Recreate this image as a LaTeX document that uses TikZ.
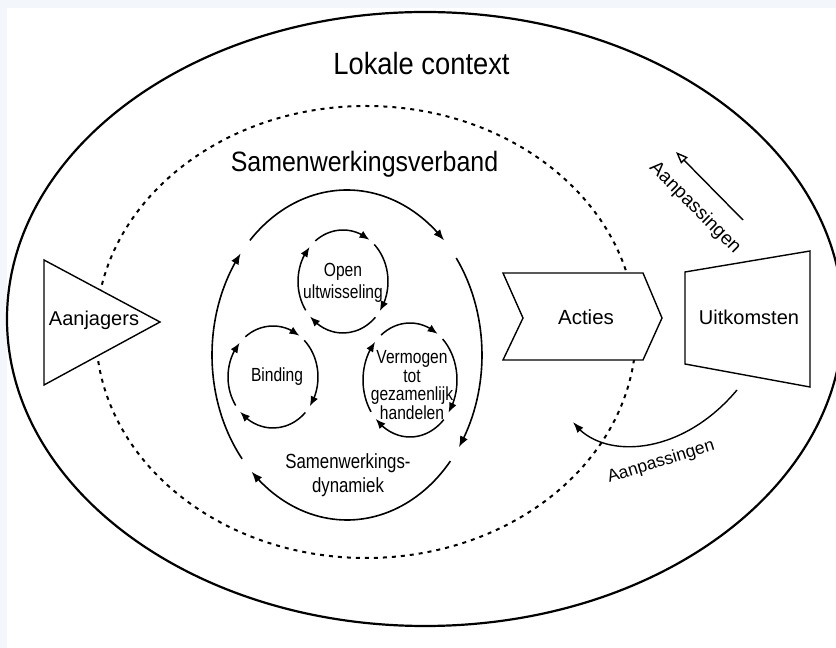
\documentclass[tikz,border=0pt]{standalone}
\usepackage{fontspec}
\setmainfont{Liberation Sans}
\newfontfamily\narrowfont[FakeStretch=0.82]{Liberation Sans}
\newfontfamily\headfont[FakeStretch=0.89]{Liberation Sans}
\usetikzlibrary{arrows.meta,bending}
\definecolor{bandblue}{RGB}{243,246,251}
\tikzset{
  box/.style={draw,fill=white,line width=1.4pt},
  cyc/.style={line width=1.5pt,-{Latex[length=10pt,width=8pt]}},
  bigcyc/.style={line width=1.6pt,-{Latex[length=11pt,width=8.5pt]}},
}

\begin{document}
\begin{tikzpicture}
\begin{scope}[x=1pt,y=1pt]
\useasboundingbox (0,0) rectangle (836,648);
\fill[bandblue] (0,0) rectangle (836,648);
\fill[white] (7,0) rectangle (836,640);

% context and partnership
\path[draw,line width=2.2pt] (425,329) ellipse [x radius=418,y radius=307];
\path[draw,line width=2pt,dash pattern=on 4pt off 5pt]%
(366,316) ellipse [x radius=270,y radius=226];

% shapes on the main line
\path[box]%
(44,388)--(160,326)--(44,263)--cycle;
\path[box]%
(503,375)--(643,375)--(662,330)--(643,288)--(503,288)--(523,330)--cycle;
\path[box]%
(685,376)--(810,397)--(810,261)--(685,284)--cycle;

% outer dynamics loop
\draw[bigcyc] (347,293) ++(136:135 and 165) arc[start angle=136,end angle=44,x radius=135,y radius=165];
\draw[bigcyc] (347,293) ++(36:135 and 165) arc[start angle=36,end angle=-34,x radius=135,y radius=165];
\draw[bigcyc] (347,293) ++(-40:135 and 165) arc[start angle=-40,end angle=-135,x radius=135,y radius=165];
\draw[bigcyc] (347,293) ++(-141:135 and 165) arc[start angle=-141,end angle=-218,x radius=135,y radius=165];

% open exchange
\draw[cyc] (343,366.5) ++(128:45 and 51.5) arc[start angle=128,end angle=54,x radius=45,y radius=51.5];
\draw[cyc] (343,366.5) ++(46:45 and 51.5) arc[start angle=46,end angle=-35,x radius=45,y radius=51.5];
\draw[cyc] (343,366.5) ++(-44:45 and 51.5) arc[start angle=-44,end angle=-137,x radius=45,y radius=51.5];
\draw[cyc] (343,366.5) ++(-146:45 and 51.5) arc[start angle=-146,end angle=-222,x radius=45,y radius=51.5];

% binding
\draw[cyc] (273,271) ++(128:45 and 51) arc[start angle=128,end angle=54,x radius=45,y radius=51];
\draw[cyc] (273,271) ++(46:45 and 51) arc[start angle=46,end angle=-35,x radius=45,y radius=51];
\draw[cyc] (273,271) ++(-44:45 and 51) arc[start angle=-44,end angle=-137,x radius=45,y radius=51];
\draw[cyc] (273,271) ++(-146:45 and 51) arc[start angle=-146,end angle=-222,x radius=45,y radius=51];

% capacity for joint action
\draw[cyc] (410,268) ++(128:47 and 57) arc[start angle=128,end angle=54,x radius=47,y radius=57];
\draw[cyc] (410,268) ++(46:47 and 57) arc[start angle=46,end angle=-35,x radius=47,y radius=57];
\draw[cyc] (410,268) ++(-44:47 and 57) arc[start angle=-44,end angle=-137,x radius=47,y radius=57];
\draw[cyc] (410,268) ++(-146:47 and 57) arc[start angle=-146,end angle=-222,x radius=47,y radius=57];

% labels
\node[anchor=base,font=\headfont\fontsize{30.7}{34}\selectfont] (context) at (421.5,573) {Lokale context};
\node[anchor=base,font=\headfont\fontsize{28}{32}\selectfont] (verband) at (364.5,476) {Samenwerkingsverband};
\node[anchor=base,font=\fontsize{20}{24}\selectfont] (aanjagers) at (94,322) {Aanjagers};
\node[anchor=base,font=\fontsize{20.5}{24}\selectfont] (acties) at (586,323) {Acties};
\node[anchor=base,font=\fontsize{20}{24}\selectfont] (uitkomsten) at (749,323) {Uitkomsten};
\node[align=center,font=\narrowfont\fontsize{19}{22}\selectfont] (open) at (343,365) {Open\\ultwisseling};
\node[anchor=base,font=\narrowfont\fontsize{19}{22}\selectfont] (binding) at (277,266) {Binding};
\node[align=center,font=\narrowfont\fontsize{19}{18.7}\selectfont] (vermogen) at (412,263) {Vermogen\\tot\\gezamenlijk\\handelen};
\node[align=center,font=\narrowfont\fontsize{20.5}{24}\selectfont] (dynamiek) at (348,173) {Samenwerkings-\\dynamiek};

% adjustments
\coordinate (uptail) at (743,428);
\coordinate (uphead) at (676,496);
\draw[line width=1.4pt,-{Triangle[open,length=12pt,width=9pt]}] (uptail) -- (uphead);
\node[rotate=-45,font=\fontsize{19}{22}\selectfont] (adjtop) at (695,440) {Aanpassingen};
\coordinate (backtail) at (737,258);
\coordinate (backhead) at (573,226);
\draw[line width=1.4pt,-{Latex[length=11pt,width=8pt]}]%
(backtail) .. controls (680,190) and (600,188) .. (backhead);
\node[rotate=17,font=\fontsize{17.5}{20}\selectfont] (adjbot) at (661,186) {Aanpassingen};

\end{scope}
\end{tikzpicture}
\end{document}
